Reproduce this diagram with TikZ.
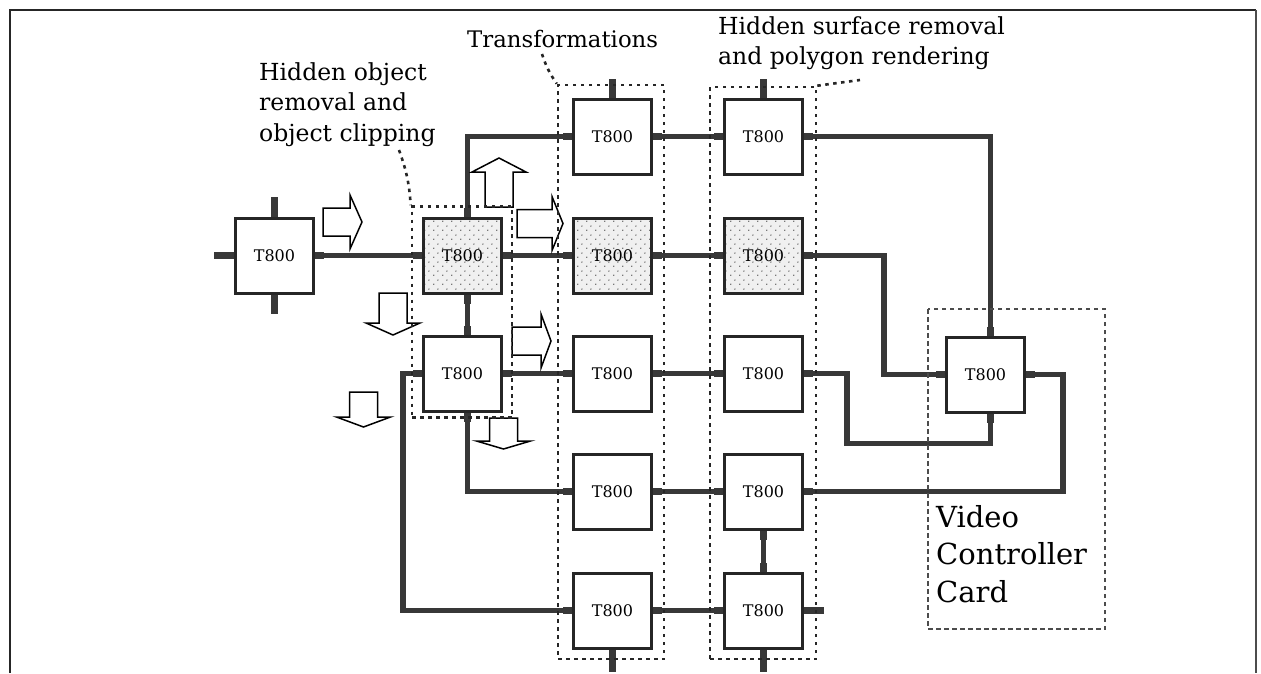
\documentclass[tikz,border=0pt]{standalone}
\usepackage{fontspec}
\setmainfont{DejaVu Serif}
\usepackage{tikz}
\usetikzlibrary{positioning,calc,fit,patterns,arrows.meta}

\pgfdeclarepatternformonly{sparsedots}{\pgfpointorigin}{\pgfqpoint{9pt}{9pt}}{\pgfqpoint{9pt}{9pt}}{%
  \pgfpathcircle{\pgfqpoint{2pt}{2pt}}{0.8pt}%
  \pgfpathcircle{\pgfqpoint{6.5pt}{6.5pt}}{0.8pt}%
  \pgfusepath{fill}}

\begin{document}
\begin{tikzpicture}[x=1pt,y=-1pt,
  tp/.style={rectangle,draw=black!85,line width=3pt,minimum width=78pt,minimum height=75pt,
             inner sep=0pt,font=\fontsize{16}{16}\selectfont},
  tps/.style={tp,preaction={fill=gray!12},pattern=sparsedots,pattern color=black!70},
  link/.style={draw=black!78,line width=5.4pt,line join=miter,
               {Rectangle[length=9pt,width=7.2pt]}-{Rectangle[length=9pt,width=7.2pt]}},
  stub/.style={draw=black!78,line width=7pt},
  grp/.style={draw=black!85,line width=2.6pt,dash pattern=on 3.5pt off 4.5pt,inner sep=0pt},
  lead/.style={draw=black!85,line width=2.6pt,dash pattern=on 3.5pt off 4.5pt},
  card/.style={draw=black!70,line width=1.4pt,dash pattern=on 4.5pt off 3.5pt},
  lbl/.style={font=\fontsize{23.5}{30.5}\selectfont,inner sep=0pt,align=left},
  arr/.style={draw=black,line width=1.5pt,fill=white},
  pics/blkarr/.style 2 args={code={
    \draw[arr] (0,-14)--(#1,-14)--(#1,-27)--({#1+#2},0)--(#1,27)--(#1,14)--(0,14)--cycle;}}
]
\useasboundingbox (0,0) rectangle (1261,673);
\draw[line width=2.6pt,black!85] (10,673) -- (10,10) -- (1256,10);
\draw[line width=1.5pt,black!70] (1256,10) -- (1256,673);

% transputers
\node[tp] (in0) at (274.5,255.5) {T800};
\node[tps,right=107pt of in0] (ho1) {T800};
\node[tp, below=40pt of ho1]  (ho2) {T800};
\node[tps,right=69pt of ho1]  (tf2) {T800};
\node[tp, above=41pt of tf2]  (tf1) {T800};
\node[tp, below=40pt of tf2]  (tf3) {T800};
\node[tp, below=40pt of tf3]  (tf4) {T800};
\node[tp, below=41pt of tf4]  (tf5) {T800};
\node[tp, right=70pt of tf1]  (hs1) {T800};
\node[tps,right=70pt of tf2]  (hs2) {T800};
\node[tp, right=70pt of tf3]  (hs3) {T800};
\node[tp, right=70pt of tf4]  (hs4) {T800};
\node[tp, right=70pt of tf5]  (hs5) {T800};
\node[tp] (vc) at (985.5,374.5) {T800};

% links
\draw[stub] (in0.west) -- ++(-20,0); \draw[stub] (in0.north) -- ++(0,-20); \draw[stub] (in0.south) -- ++(0,19);
\draw[link] (in0) -- (ho1); \draw[link] (ho1) -- (tf2);
\draw[link] ([xshift=5pt]ho1.south) -- ([xshift=5pt]ho2.north);
\draw[link] ([xshift=5pt]ho1.north) |- (tf1); \draw[link] (ho2) -- (tf3);
\draw[link] ([xshift=5pt]ho2.south) |- (tf4);
\draw[link] (ho2.west) -- ++(-19,0) |- (tf5);
\draw[link] (tf1) -- (hs1); \draw[link] (tf2) -- (hs2); \draw[link] (tf3) -- (hs3);
\draw[link] (tf4) -- (hs4); \draw[link] (tf5) -- (hs5); \draw[link] (hs4) -- (hs5);
\draw[link] (hs1) -| ([xshift=5pt]vc.north);
\draw[link] (hs2.east) -- ++(80,0) |- (vc);
\draw[link] (hs3.east) -- ++(43,0) |- ($(vc.south)+(5,30)$) -- ([xshift=5pt]vc.south);
\draw[link] (vc.east) -- ++(37,0) |- (hs4);
\draw[stub] (tf1.north) -- ++(0,-19); \draw[stub] (hs1.north) -- ++(0,-19);
\draw[stub] (tf5.south) -- ++(0,22); \draw[stub] (hs5.south) -- ++(0,22);
\draw[stub] (hs5.east) -- ++(20,0);

% data flow arrows
\pic at (323,222) {blkarr={27}{12}};
\pic[rotate=90] at (499,207) {blkarr={35}{14}};
\pic at (517,223.5) {blkarr={35}{11}};
\pic at (512,341) {blkarr={29}{10}};
\pic[rotate=-90] at (393,293) {blkarr={30}{12}};
\pic[rotate=-90] at (363.5,392) {blkarr={25}{10}};
\pic[rotate=-90] at (503.5,418) {blkarr={23}{8}};

% groups
\node[grp,fit={($(ho1.north west)+(-10,-10)$) ($(ho2.south east)+(9,5)$)}] (hogrp) {};
\node[grp,fit={($(tf1.north west)+(-14,-12.5)$) ($(tf5.south east)+(11,9.5)$)}] (tfgrp) {};
\node[grp,fit={($(hs1.north west)+(-13,-10.5)$) ($(hs5.south east)+(12,9.5)$)}] (hsgrp) {};
\draw[card] (928,309) rectangle (1105,629);

% labels
\node[lbl,anchor=north west] (holbl) at (259,62) {Hidden object\\removal and\\object clipping};
\node[lbl,anchor=base west,font=\fontsize{22.8}{30}\selectfont] (tflbl) at (467,47) {Transformations};
\node[lbl,anchor=north west] (hslbl) at (718,16) {Hidden surface removal\\and polygon rendering};
\node[font=\fontsize{29}{37.5}\selectfont,anchor=north west,align=left,inner sep=0pt] (vclbl) at (936,505)
  {Video\\Controller\\Card};
\coordinate (holead) at (399,150);
\coordinate (tflead) at (542,54);
\coordinate (hslead) at (860,80);
\draw[lead] (holead) to[bend left=8] (hogrp.north west);
\draw[lead] (tflead) to[bend right=8] (tfgrp.north west);
\draw[lead] (hsgrp.north east) -- (hslead);
\end{tikzpicture}
\end{document}
